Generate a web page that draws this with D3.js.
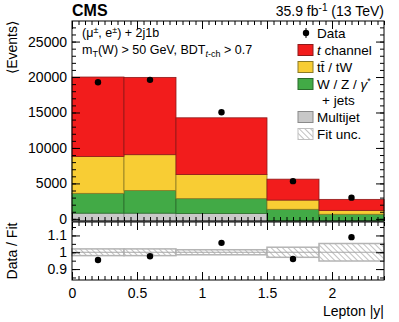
<!DOCTYPE html>
<html>
<head>
<meta charset="utf-8">
<script src="https://cdn.jsdelivr.net/npm/d3@7"></script>
<style>
  body { margin: 0; background: #fff; }
  text { font-family: "Liberation Sans", Arial, sans-serif; fill: #000; }
</style>
</head>
<body>
<div id="chart"></div>
<script>
// bin edges in lepton |y|
const edges = [0, 0.4, 0.8, 1.5, 1.9, 2.4];
// stacked components (events per bin)
const multijet = [800, 800, 750, 0, 0];
const wzjets   = [2800, 3200, 2100, 1350, 650];
const ttbar    = [5200, 5050, 3400, 1300, 550];
const tchannel = [11200, 10900, 8000, 2950, 1550];
// data
const dataX   = [0.2, 0.6, 1.15, 1.7, 2.15];
const dataY   = [19270, 19600, 15040, 5320, 2990];
const ratioY  = [0.954, 0.976, 1.056, 0.96, 1.09];
const fitUnc  = [0.02, 0.02, 0.015, 0.03, 0.052];

const W = 399, H = 322;
const L = 72, R = 384;

const svg = d3.select("#chart").append("svg")
  .attr("width", W).attr("height", H);

const defs = svg.append("defs");
const pat = defs.append("pattern")
  .attr("id", "hatch").attr("patternUnits", "userSpaceOnUse")
  .attr("width", 4).attr("height", 4)
  .attr("patternTransform", "rotate(-45)");
pat.append("rect").attr("width", 4).attr("height", 4).attr("fill", "#fff");
pat.append("line").attr("x1", 0).attr("y1", 0).attr("x2", 0).attr("y2", 4)
  .attr("stroke", "#a0a0a0").attr("stroke-width", 1.3);

const x = d3.scaleLinear().domain([0, 2.4]).range([L, R]);
const y = d3.scaleLinear().domain([-300, 27900]).range([221, 21]);
const yr = d3.scaleLinear().domain([0.835, 1.18]).range([280, 222]);

// stacked histogram
const comps = [
  {vals: multijet, fill: "#c8c8c8", stroke: "#8a8a8a"},
  {vals: wzjets,   fill: "#42aa46", stroke: "#2b6b2c"},
  {vals: ttbar,    fill: "#f8cd34", stroke: "#8c7a25"},
  {vals: tchannel, fill: "#f21c1c", stroke: "#8e1a1a"}
];
const bins = d3.range(edges.length - 1);
let base = bins.map(() => null);
const main = svg.append("g");
comps.forEach(c => {
  const shown = bins.filter(i => c.vals[i] > 0);
  const tops = bins.map(i => c.vals[i] > 0 ? (base[i] === null ? 0 : base[i]) + c.vals[i] : base[i]);
  main.selectAll(null).data(shown).enter().append("rect")
    .attr("x", i => x(edges[i]))
    .attr("width", i => x(edges[i + 1]) - x(edges[i]))
    .attr("y", i => y(tops[i]))
    .attr("height", i => (base[i] === null ? y.range()[0] : y(base[i])) - y(tops[i]))
    .attr("fill", c.fill).attr("stroke", c.stroke).attr("stroke-width", 0.8);
  base = tops;
});

// data points
main.selectAll(null).data(bins).enter().append("circle")
  .attr("cx", i => x(dataX[i])).attr("cy", i => y(dataY[i]))
  .attr("r", 3.2).attr("fill", "#000");

// ratio band
const rat = svg.append("g");
rat.selectAll(null).data(bins).enter().append("rect")
  .attr("x", i => x(edges[i]))
  .attr("width", i => x(edges[i + 1]) - x(edges[i]))
  .attr("y", i => yr(1 + fitUnc[i]))
  .attr("height", i => yr(1 - fitUnc[i]) - yr(1 + fitUnc[i]))
  .attr("fill", "url(#hatch)").attr("stroke", "#b4b4b4").attr("stroke-width", 1.5);
rat.append("line").attr("x1", L).attr("x2", R).attr("y1", yr(1)).attr("y2", yr(1))
  .attr("stroke", "#a8a8a8").attr("stroke-width", 1);
rat.selectAll(null).data(bins).enter().append("circle")
  .attr("cx", i => x(dataX[i])).attr("cy", i => yr(ratioY[i]))
  .attr("r", 3.2).attr("fill", "#000");

// axes helper: ticks inward on all sides
function ticks(g, axis, vals, size, fmt) {
  g.call(axis.tickValues(vals).tickSize(size).tickFormat(fmt || ""))
   .call(s => s.select(".domain").remove());
  g.selectAll("line").attr("stroke", "#000");
}
const xMaj = d3.range(0, 2.41, 0.5);
const xMin = d3.range(0, 2.401, 0.05);
function frame(ys, top, bottom, yMaj, yMin, labelFmt, xLabels) {
  ticks(svg.append("g").attr("transform", `translate(${L},0)`), d3.axisLeft(ys), yMin, -4);
  ticks(svg.append("g").attr("transform", `translate(${L},0)`), d3.axisLeft(ys), yMaj, -8, labelFmt);
  ticks(svg.append("g").attr("transform", `translate(${R},0)`), d3.axisRight(ys), yMin, -4);
  ticks(svg.append("g").attr("transform", `translate(${R},0)`), d3.axisRight(ys), yMaj, -8);
  ticks(svg.append("g").attr("transform", `translate(0,${top})`), d3.axisTop(x), xMin, -4);
  ticks(svg.append("g").attr("transform", `translate(0,${top})`), d3.axisTop(x), xMaj, -8);
  ticks(svg.append("g").attr("transform", `translate(0,${bottom})`), d3.axisBottom(x), xMin, -4);
  const gb = svg.append("g").attr("transform", `translate(0,${bottom})`);
  ticks(gb, d3.axisBottom(x), xMaj, -8, xLabels ? d3.format("~g") : "");
  gb.selectAll("text").attr("y", 8).attr("dy", "0.71em");
  svg.append("rect").attr("x", L).attr("y", top).attr("width", R - L).attr("height", bottom - top)
    .attr("fill", "none").attr("stroke", "#000").attr("stroke-width", 1);
}
frame(y, 21, 221, d3.range(0, 25001, 5000), d3.range(0, 27801, 1000), d3.format("d"), false);
frame(yr, 222, 280, [0.9, 1.0, 1.1], [0.85, 0.9, 0.95, 1.0, 1.05, 1.1, 1.15], d3.format("~g"), true);
svg.selectAll(".tick text").style("font-size", "14px")
  .style("font-family", "'Liberation Sans', Arial, sans-serif");
svg.selectAll("g").filter(function() { return this.getAttribute("transform") === `translate(${L},0)`; })
  .selectAll("text").attr("x", -5);

// titles
svg.append("text").attr("x", L).attr("y", 16).style("font-weight", "bold").style("font-size", "16px").text("CMS");
const lumi = svg.append("text").attr("x", R).attr("y", 16).attr("text-anchor", "end").style("font-size", "14px");
lumi.append("tspan").text("35.9 fb");
lumi.append("tspan").attr("dy", -5).style("font-size", "10px").text("-1");
lumi.append("tspan").attr("dy", 5).text(" (13 TeV)");

svg.append("text").attr("transform", "translate(17,21) rotate(-90)").attr("text-anchor", "end")
  .style("font-size", "14px").text("\u27E8Events\u27E9");
svg.append("text").attr("transform", "translate(17,251) rotate(-90)").attr("text-anchor", "middle")
  .style("font-size", "14px").text("Data / Fit");
svg.append("text").attr("x", R).attr("y", 316).attr("text-anchor", "end")
  .style("font-size", "14px").text("Lepton |y|");

// selection text
const s1 = svg.append("text").attr("x", 82).attr("y", 37).style("font-size", "12.5px");
s1.append("tspan").text("(\u03BC");
s1.append("tspan").attr("dy", -4).style("font-size", "9px").text("\u00B1");
s1.append("tspan").attr("dy", 4).text(", e");
s1.append("tspan").attr("dy", -4).style("font-size", "9px").text("\u00B1");
s1.append("tspan").attr("dy", 4).text(") + 2j1b");
const s2 = svg.append("text").attr("x", 82).attr("y", 54).style("font-size", "12.5px");
s2.append("tspan").text("m");
s2.append("tspan").attr("dy", 3).style("font-size", "9px").text("T");
s2.append("tspan").attr("dy", -3).text("(W) > 50 GeV, BDT");
s2.append("tspan").attr("dy", 3).style("font-size", "9px").style("font-style", "italic").text("t");
s2.append("tspan").style("font-size", "9px").text("-ch");
s2.append("tspan").attr("dy", -3).text(" > 0.7");

// legend
const lg = svg.append("g").style("font-size", "13.5px");
const lx = 298, lt = 317;
lg.append("circle").attr("cx", lx + 8).attr("cy", 33).attr("r", 3.2);
lg.append("line").attr("x1", lx + 8).attr("x2", lx + 8).attr("y1", 28).attr("y2", 38).attr("stroke", "#000");
lg.append("text").attr("x", lt).attr("y", 38).text("Data");
const items = [
  {y: 50, fill: "#f21c1c", stroke: "#8e1a1a"},
  {y: 67, fill: "#f8cd34", stroke: "#8c7a25"},
  {y: 84, fill: "#42aa46", stroke: "#2b6b2c"},
  {y: 117, fill: "#c8c8c8", stroke: "#8a8a8a"},
  {y: 134, fill: "url(#hatch)", stroke: "#c0c0c0"}
];
items.forEach(it => lg.append("rect").attr("x", lx).attr("y", it.y - 5.5).attr("width", 15).attr("height", 11)
  .attr("fill", it.fill).attr("stroke", it.stroke).attr("stroke-width", 1));
const t1 = lg.append("text").attr("x", lt).attr("y", 55);
t1.append("tspan").style("font-style", "italic").text("t");
t1.append("tspan").text(" channel");
lg.append("text").attr("x", lt).attr("y", 72).text("t\u0074\u0304 / tW");
const t3 = lg.append("text").attr("x", lt).attr("y", 89);
t3.append("tspan").text("W / Z / ");
t3.append("tspan").style("font-style", "italic").text("\u03B3");
t3.append("tspan").attr("dy", -5).style("font-size", "9px").text("*");
lg.append("text").attr("x", lt + 5).attr("y", 105).text("+ jets");
lg.append("text").attr("x", lt).attr("y", 122).text("Multijet");
lg.append("text").attr("x", lt).attr("y", 139).text("Fit unc.");
</script>
</body>
</html>
